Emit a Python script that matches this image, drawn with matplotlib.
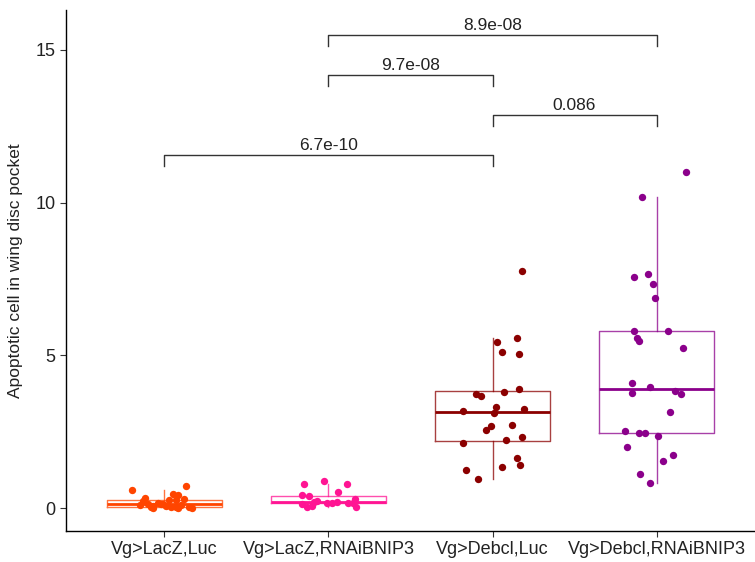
import matplotlib
matplotlib.use("Agg")
import matplotlib.pyplot as plt
import numpy as np

plt.rcParams["font.family"] = ["Liberation Sans", "DejaVu Sans"]

groups = ["Vg>LacZ,Luc", "Vg>LacZ,RNAiBNIP3", "Vg>Debcl,Luc", "Vg>Debcl,RNAiBNIP3"]
colors = ["#FF4500", "#FF1493", "#8B0000", "#8B008B"]

# values, with the horizontal jitter (category units)
lacz_luc = [0.59, 0.72, 0.47, 0.44, 0.34, 0.30, 0.27, 0.22, 0.18, 0.14, 0.12, 0.10,
            0.10, 0.08, 0.07, 0.05, 0.04, 0.03, 0.02, 0.01, 0.00, 0.00, 0.12, 0.25]
lacz_luc_dx = [-0.20, 0.13, 0.05, 0.08, -0.12, 0.12, 0.03, -0.13, -0.04, -0.10, -0.02, -0.15,
               0.10, 0.01, -0.07, 0.07, -0.08, 0.04, 0.15, 0.08, -0.07, 0.17, -0.01, 0.07]

lacz_bnip3 = [0.03, 0.05, 0.08, 0.12, 0.15, 0.16, 0.17, 0.18, 0.19, 0.20, 0.22, 0.30,
              0.38, 0.42, 0.53, 0.78, 0.79, 0.88]
lacz_bnip3_dx = [0.17, -0.13, -0.10, -0.16, -0.01, 0.12, 0.15, 0.02, -0.09, 0.05, -0.07, 0.16,
                 -0.12, -0.16, 0.06, 0.11, -0.15, -0.03]

debcl_luc = [7.75, 5.45, 5.56, 5.10, 5.05, 3.73, 3.68, 3.80, 3.89, 3.17, 3.30, 3.12,
             3.25, 2.68, 2.54, 2.71, 2.12, 2.23, 2.32, 1.65, 1.41, 1.25, 1.33, 0.94]
debcl_luc_dx = [0.18, 0.03, 0.15, 0.06, 0.16, -0.10, -0.07, 0.07, 0.16, -0.18, 0.02, 0.01,
                0.19, -0.01, -0.04, 0.12, -0.18, 0.08, 0.18, 0.15, 0.17, -0.16, 0.06, -0.09]

debcl_bnip3 = [11.0, 10.19, 7.57, 7.67, 7.33, 6.86, 5.80, 5.80, 5.57, 5.47, 5.25, 4.08, 3.96,
               3.76, 3.82, 3.72, 3.13, 2.51, 2.47, 2.47, 2.35, 2.00, 1.73, 1.53, 1.10, 0.83]
debcl_bnip3_dx = [0.18, -0.09, -0.14, -0.05, -0.02, -0.01, -0.14, 0.07, -0.12, -0.11, 0.16,
                  -0.15, -0.04, -0.15, 0.11, 0.15, 0.08, -0.19, -0.11, -0.07, 0.01, -0.18,
                  0.10, 0.04, -0.10, -0.04]

values = [lacz_luc, lacz_bnip3, debcl_luc, debcl_bnip3]
jitter = [lacz_luc_dx, lacz_bnip3_dx, debcl_luc_dx, debcl_bnip3_dx]

# comparisons: (group a, group b, bracket height, label)
bracket_pairs = [(1, 3), (3, 4), (2, 3), (2, 4)]
bracket_y = [11.56, 12.87, 14.17, 15.49]
bracket_labels = ["6.7e-10", "0.086", "9.7e-08", "8.9e-08"]

fig = plt.figure(figsize=(7.55, 5.62), dpi=100)
ax = fig.add_axes([66 / 755, 31 / 562, 1 - 66 / 755, 521 / 562])

pos = np.arange(1, len(groups) + 1)
for i, (vals, col) in enumerate(zip(values, colors)):
    ax.boxplot([vals], positions=[pos[i]], widths=0.7, showfliers=False, whis=1.5,
               boxprops=dict(color=col, linewidth=1.0, alpha=0.75),
               whiskerprops=dict(color=col, linewidth=1.0, alpha=0.75),
               capprops=dict(linewidth=0),
               medianprops=dict(color=col, linewidth=2.0))
    ax.scatter(pos[i] + np.array(jitter[i]), vals, s=28, color=col, zorder=3, linewidths=0)

tip = 0.36
for (a, b), y, lab in zip(bracket_pairs, bracket_y, bracket_labels):
    ax.plot([a, a, b, b], [y - tip, y, y, y - tip], color="#333333", linewidth=1.0)
    ax.text((a + b) / 2, y + 0.06, lab, ha="center", va="bottom", fontsize=12.5, color="#222222")

ax.set_xlim(0.4, 4.6)
ax.set_ylim(-0.75, 16.3)
ax.set_xticks(pos)
ax.set_xticklabels(groups, fontsize=13)
ax.set_yticks([0, 5, 10, 15])
ax.tick_params(axis="y", labelsize=13)
ax.tick_params(axis="both", length=4, color="#333333", labelcolor="#222222")
ax.set_ylabel("Apoptotic cell in wing disc pocket", fontsize=12.5, color="#222222", labelpad=9)
for s in ["top", "right"]:
    ax.spines[s].set_visible(False)
for s in ["left", "bottom"]:
    ax.spines[s].set_linewidth(1.0)

fig.savefig("out.png", dpi=100)
